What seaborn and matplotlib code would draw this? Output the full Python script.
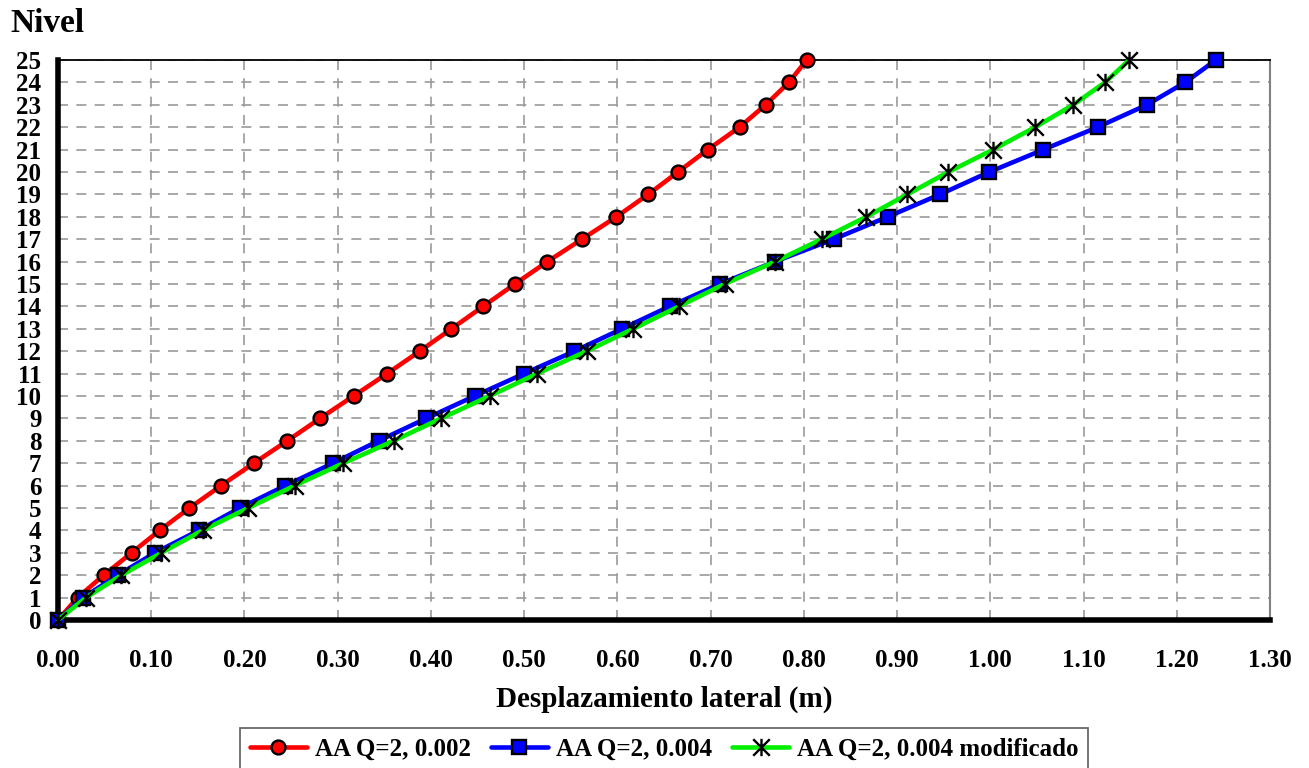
import matplotlib
matplotlib.use("Agg")
import matplotlib.pyplot as plt
from matplotlib.path import Path
import pandas as pd
import seaborn as sns

# datos
nivel = list(range(26))
desp_002 = [0.000, 0.021, 0.049, 0.079, 0.109, 0.141, 0.175, 0.210, 0.246, 0.281,
            0.317, 0.353, 0.388, 0.422, 0.456, 0.490, 0.525, 0.562, 0.599, 0.633,
            0.665, 0.697, 0.731, 0.759, 0.784, 0.803]
desp_004 = [0.000, 0.027, 0.064, 0.104, 0.151, 0.195, 0.244, 0.295, 0.344, 0.395,
            0.447, 0.500, 0.554, 0.605, 0.656, 0.710, 0.769, 0.832, 0.890, 0.946,
            0.999, 1.057, 1.115, 1.168, 1.209, 1.242]
desp_004_mod = [0.000, 0.030, 0.068, 0.111, 0.155, 0.204, 0.254, 0.306, 0.360, 0.411,
                0.463, 0.514, 0.567, 0.617, 0.666, 0.715, 0.769, 0.819, 0.867, 0.911,
                0.955, 1.003, 1.048, 1.089, 1.123, 1.149]
series = ["AA Q=2, 0.002", "AA Q=2, 0.004", "AA Q=2, 0.004 modificado"]
x_ticks = [i / 10 for i in range(14)]

df = pd.DataFrame({
    "nivel": nivel * 3,
    "desp": desp_002 + desp_004 + desp_004_mod,
    "serie": [series[0]] * 26 + [series[1]] * 26 + [series[2]] * 26,
})

sns.set_style("white")
plt.rcParams["font.family"] = ["Liberation Serif", "DejaVu Serif"]
plt.rcParams["font.weight"] = "bold"
for k in ["text.color", "axes.labelcolor", "xtick.color", "ytick.color"]:
    plt.rcParams[k] = "black"

# marcador estrella tipo Excel (X + linea vertical)
estrella = Path([(-1, -1), (1, 1), (-1, 1), (1, -1), (0, -1.05), (0, 1.05)],
                [Path.MOVETO, Path.LINETO] * 3)

estilos = {
    series[0]: dict(color="#ff0000", marker="o", markersize=10, markerfacecolor="#ff0000",
                    markeredgecolor="black", markeredgewidth=1.7),
    series[1]: dict(color="#0000ff", marker="s", markersize=9.5, markerfacecolor="#0000ff",
                    markeredgecolor="black", markeredgewidth=1.7),
    series[2]: dict(color="#00ee00", marker=estrella, markersize=12.5, markerfacecolor="none",
                    markeredgecolor="black", markeredgewidth=1.7),
}

fig = plt.figure(figsize=(13.09, 7.68), dpi=100)
ax = fig.add_axes([58 / 1309, 1 - 620 / 768, (1270 - 58) / 1309, (620 - 60) / 768])

for s in series:
    sub = df[df["serie"] == s]
    sns.lineplot(data=sub, x="desp", y="nivel", sort=False, estimator=None,
                 linewidth=3.3, label=s, clip_on=False, zorder=5, ax=ax, **estilos[s])

ax.set_xlim(0, 1.3)
ax.set_ylim(0, 25)
ax.set_xticks(x_ticks)
ax.set_xticklabels([f"{v:.2f}" for v in x_ticks])
ax.set_yticks(nivel)
ax.grid(True, color="#9a9a9a", linestyle=(0, (6, 5)), linewidth=1.2)
ax.set_axisbelow(True)

for lado in ["left", "bottom"]:
    ax.spines[lado].set_linewidth(4)
    ax.spines[lado].set_color("black")
ax.spines["top"].set_linewidth(1.3)
ax.spines["top"].set_color("black")
ax.spines["right"].set_linewidth(1.5)
ax.spines["right"].set_color("#808080")

ax.tick_params(axis="y", direction="out", length=7, width=4, pad=5, labelsize=18, color="black")
ax.tick_params(axis="x", direction="out", length=7, width=4, pad=14, labelsize=18, color="black")
for lab in ax.get_xticklabels() + ax.get_yticklabels():
    lab.set_fontweight("bold")

ax.set_xlabel("Desplazamiento lateral (m)", fontsize=21, fontweight="bold", labelpad=10)
ax.set_ylabel("")
fig.text(10 / 1309, 1 - 23 / 768, "Nivel", fontsize=24, fontweight="bold", va="center", ha="left")

leg = ax.legend(loc="upper center", bbox_to_anchor=(0.5, -(728 - 620) / 560), ncol=3,
                frameon=True, fancybox=False, edgecolor="#333333", fontsize=18,
                handlelength=2.3, handletextpad=0.3, columnspacing=0.8,
                borderpad=0.4, borderaxespad=0)
leg.get_frame().set_linewidth(1.2)
for t in leg.get_texts():
    t.set_fontweight("bold")

fig.savefig("out.png", dpi=100)
